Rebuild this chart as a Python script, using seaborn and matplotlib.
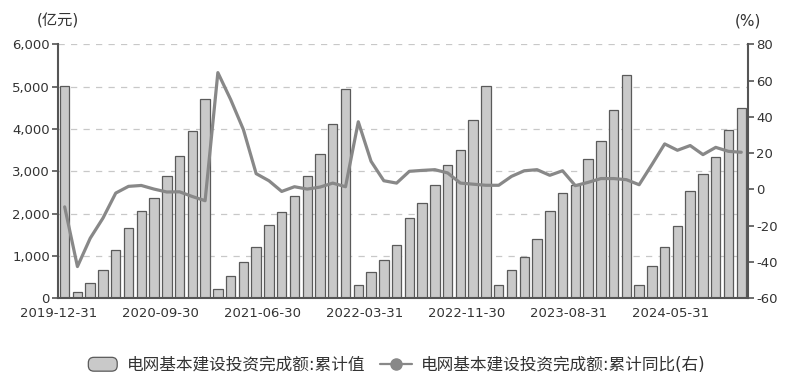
import matplotlib
matplotlib.use("Agg")
import matplotlib.pyplot as plt
import seaborn as sns
import pandas as pd
from matplotlib.patches import Patch, FancyBboxPatch
from matplotlib.lines import Line2D
from matplotlib.legend_handler import HandlerPatch

# ---- data ----
months = (["2019-12"]
          + [f"2020-{m:02d}" for m in range(2, 13)]
          + [f"2021-{m:02d}" for m in range(2, 13)]
          + [f"2022-{m:02d}" for m in range(2, 13)]
          + [f"2023-{m:02d}" for m in range(2, 13)]
          + [f"2024-{m:02d}" for m in range(2, 11)])

cum_value = [5012, 142, 362, 670, 1137, 1659, 2062, 2377, 2898, 3372, 3948, 4699,
             225, 536, 853, 1223, 1737, 2038, 2417, 2891, 3403, 4107, 4951,
             308, 616, 900, 1256, 1903, 2242, 2678, 3152, 3514, 4218, 5012,
             315, 663, 986, 1398, 2054, 2479, 2685, 3287, 3721, 4458, 5275,
             320, 765, 1223, 1706, 2540, 2937, 3330, 3982, 4502]

cum_yoy = [-9.6, -42.5, -26.9, -15.8, -2.0, 1.7, 2.2, 0.2, -1.4, -1.3, -3.9, -6.2,
           64.4, 49.6, 33.0, 8.7, 4.8, -1.1, 1.5, 0.2, 1.3, 3.5, 1.5,
           37.3, 15.5, 4.8, 3.5, 10.0, 10.5, 10.9, 9.1, 3.5, 2.9, 2.3,
           2.3, 7.2, 10.3, 10.9, 7.8, 10.3, 2.1, 3.9, 6.0, 6.0, 5.4,
           2.6, 13.7, 25.1, 21.6, 24.2, 19.2, 23.2, 21.0, 20.5]

tick_labels = ["2019-12-31", "2020-09-30", "2021-06-30", "2022-03-31",
               "2022-11-30", "2023-08-31", "2024-05-31"]
tick_months = ["2019-12", "2020-09", "2021-06", "2022-03", "2022-11", "2023-08", "2024-05"]

bar_label = "电网基本建设投资完成额:累计值"
line_label = "电网基本建设投资完成额:累计同比(右)"

df = pd.DataFrame({"month": months, "value": cum_value, "yoy": cum_yoy,
                   "pos": range(len(months))})

# ---- style ----
sns.set_style("white")
plt.rcParams["font.family"] = ["DejaVu Sans", "Noto Sans CJK SC"]
plt.rcParams["axes.unicode_minus"] = False

text_c = "#333333"
spine_c = "#555555"
bar_fc = "#c9c9c9"
bar_ec = "#5a5a5a"
line_c = "#888888"

fig = plt.figure(figsize=(7.92, 3.86), dpi=100)
ax = fig.add_axes([0.0736, 0.2272, 0.8704, 0.6580])

sns.barplot(data=df, x="pos", y="value", ax=ax, color=bar_fc,
            edgecolor=bar_ec, linewidth=0.9, width=0.74, saturation=1,
            order=list(range(len(months))))

ax.set_xlim(-0.5, len(months) - 0.5)
ax.set_ylim(0, 6000)
ax.set_yticks(range(0, 6001, 1000))
ax.set_yticklabels([f"{v:,}" for v in range(0, 6001, 1000)], fontsize=9.5, color=text_c)
ax.yaxis.grid(True, linestyle=(0, (5, 5)), color="#c8c8c8", linewidth=0.9)
ax.set_axisbelow(True)

tick_pos = [months.index(m) - 0.5 for m in tick_months]
ax.set_xticks(tick_pos)
ax.set_xticklabels(tick_labels, fontsize=9.5, color=text_c)
ax.set_xlabel("")
ax.set_ylabel("")
ax.tick_params(axis="both", direction="out", length=4, width=1.2, color=spine_c, pad=2)

for s in ["top", "right"]:
    ax.spines[s].set_visible(False)
for s in ["left", "bottom"]:
    ax.spines[s].set_color(spine_c)
    ax.spines[s].set_linewidth(1.5)

ax2 = ax.twinx()
sns.lineplot(data=df, x="pos", y="yoy", ax=ax2, color=line_c, linewidth=2.3)
ax2.set_ylim(-60, 80)
ax2.set_yticks(range(-60, 81, 20))
ax2.set_yticklabels([str(v) for v in range(-60, 81, 20)], fontsize=9.5, color=text_c)
ax2.set_xlim(-0.5, len(months) - 0.5)
ax2.set_ylabel("")
ax2.set_xlabel("")
ax2.tick_params(axis="y", direction="out", length=4, width=1.2, color=spine_c, pad=2)
for s in ["top", "left", "bottom"]:
    ax2.spines[s].set_visible(False)
ax2.spines["right"].set_color(spine_c)
ax2.spines["right"].set_linewidth(1.5)
ax2.grid(False)

fig.text(58 / 792, 1 - 20.7 / 386, "(亿元)", ha="center", va="center",
         fontsize=11, color=text_c)
fig.text(747.5 / 792, 1 - 20.7 / 386, "(%)", ha="center", va="center",
         fontsize=11, color=text_c)


class RoundBoxHandler(HandlerPatch):
    def create_artists(self, legend, orig_handle, xdescent, ydescent,
                       width, height, fontsize, trans):
        p = FancyBboxPatch((-xdescent + 1, -ydescent), width - 2, height,
                           boxstyle="round,pad=0,rounding_size=4",
                           facecolor=orig_handle.get_facecolor(),
                           edgecolor=orig_handle.get_edgecolor(),
                           linewidth=0.9, transform=trans)
        return [p]


handles = [Patch(facecolor=bar_fc, edgecolor=bar_ec, linewidth=0.9),
           Line2D([0], [0], color=line_c, linewidth=1.6, marker="o",
                  markersize=8, markerfacecolor=line_c, markeredgecolor=line_c)]
fig.legend(handles, [bar_label, line_label], loc="center",
           bbox_to_anchor=(396 / 792, 1 - 365 / 386), ncol=2, frameon=False,
           fontsize=12, handlelength=1.9, handleheight=0.9, columnspacing=0.9,
           handletextpad=0.5, labelcolor=text_c,
           handler_map={Patch: RoundBoxHandler()})

fig.savefig("out.png", dpi=100)
